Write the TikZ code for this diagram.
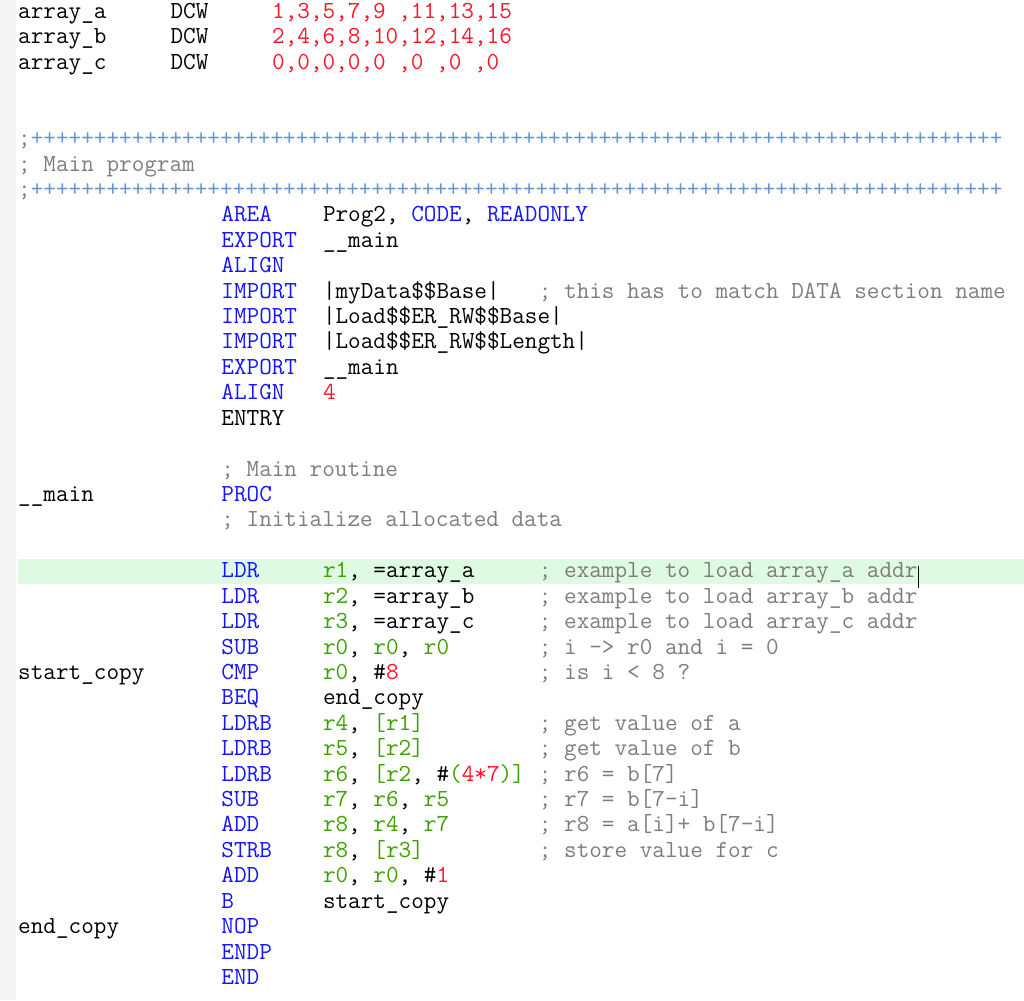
\documentclass[tikz,border=0pt]{standalone}
\usepackage{fontspec}
\definecolor{kwc}{RGB}{20,20,255}
\definecolor{rgc}{RGB}{60,160,0}
\definecolor{nmc}{RGB}{255,20,40}
\definecolor{cmc}{RGB}{125,125,125}
\definecolor{plc}{RGB}{100,150,210}
\definecolor{hlc}{RGB}{223,250,226}
\newcommand\kw[1]{\textcolor{kwc}{#1}}
\newcommand\rg[1]{\textcolor{rgc}{#1}}
\newcommand\nm[1]{\textcolor{nmc}{#1}}
\newcommand\cm[1]{\textcolor{cmc}{#1}}
\newcommand\T[4]{\node[tx] (#1) at ({18+12.7*#3},{-(18.5+25.42*#2)}) {#4};}
\newcommand\plusline{\textcolor{cmc}{;}\textcolor{plc}{+++++++++++++++++++++++++++++++++++++++++++++++++++++++++++++++++++++++++++++}}
\begin{document}
\begin{tikzpicture}[x=1pt,y=1pt,tx/.style={anchor=base west,inner sep=0pt,font=\ttfamily\fontsize{24.5}{26}\selectfont}]
\useasboundingbox (0,0) rectangle (1024,-1000);
\fill[gray!8] (0,0) rectangle (16,-1000);
\fill[hlc] (18,-559) rectangle (1024,-584);
\T{a0}{0}{0}{array\_a}\T{a1}{0}{12}{DCW}\T{a2}{0}{20}{\nm{1,3,5,7,9 ,11,13,15}}
\T{b0}{1}{0}{array\_b}\T{b1}{1}{12}{DCW}\T{b2}{1}{20}{\nm{2,4,6,8,10,12,14,16}}
\T{c0}{2}{0}{array\_c}\T{c1}{2}{12}{DCW}\T{c2}{2}{20}{\nm{0,0,0,0,0 ,0 ,0 ,0}}
\T{p1}{5}{0}{\plusline}
\T{mp}{6}{0}{\cm{; Main program}}
\T{p2}{7}{0}{\plusline}
\T{r8a}{8}{16}{\kw{AREA}}\T{r8b}{8}{24}{Prog2, \kw{CODE}, \kw{READONLY}}
\T{r9a}{9}{16}{\kw{EXPORT}}\T{r9b}{9}{24}{\_\_main}
\T{r10a}{10}{16}{\kw{ALIGN}}
\T{r11a}{11}{16}{\kw{IMPORT}}\T{r11b}{11}{24}{|myData\$\$Base|}\T{r11c}{11}{41}{\cm{; this has to match DATA section name}}
\T{r12a}{12}{16}{\kw{IMPORT}}\T{r12b}{12}{24}{|Load\$\$ER\_RW\$\$Base|}
\T{r13a}{13}{16}{\kw{IMPORT}}\T{r13b}{13}{24}{|Load\$\$ER\_RW\$\$Length|}
\T{r14a}{14}{16}{\kw{EXPORT}}\T{r14b}{14}{24}{\_\_main}
\T{r15a}{15}{16}{\kw{ALIGN}}\T{r15b}{15}{24}{\nm{4}}
\T{r16a}{16}{16}{ENTRY}
\T{r18a}{18}{16}{\cm{; Main routine}}
\T{r19l}{19}{0}{\_\_main}\T{r19a}{19}{16}{\kw{PROC}}
\T{r20a}{20}{16}{\cm{; Initialize allocated data}}
\T{r22a}{22}{16}{\kw{LDR}}\T{r22b}{22}{24}{\rg{r1}, =array\_a}\T{r22c}{22}{41}{\cm{; example to load array\_a addr}}
\T{r23a}{23}{16}{\kw{LDR}}\T{r23b}{23}{24}{\rg{r2}, =array\_b}\T{r23c}{23}{41}{\cm{; example to load array\_b addr}}
\T{r24a}{24}{16}{\kw{LDR}}\T{r24b}{24}{24}{\rg{r3}, =array\_c}\T{r24c}{24}{41}{\cm{; example to load array\_c addr}}
\T{r25a}{25}{16}{\kw{SUB}}\T{r25b}{25}{24}{\rg{r0}, \rg{r0}, \rg{r0}}\T{r25c}{25}{41}{\cm{; i -> r0 and i = 0}}
\T{r26l}{26}{0}{start\_copy}\T{r26a}{26}{16}{\kw{CMP}}\T{r26b}{26}{24}{\rg{r0}, \#\nm{8}}\T{r26c}{26}{41}{\cm{; is i < 8 ?}}
\T{r27a}{27}{16}{\kw{BEQ}}\T{r27b}{27}{24}{end\_copy}
\T{r28a}{28}{16}{\kw{LDRB}}\T{r28b}{28}{24}{\rg{r4}, \rg{[r1]}}\T{r28c}{28}{41}{\cm{; get value of a}}
\T{r29a}{29}{16}{\kw{LDRB}}\T{r29b}{29}{24}{\rg{r5}, \rg{[r2]}}\T{r29c}{29}{41}{\cm{; get value of b}}
\T{r30a}{30}{16}{\kw{LDRB}}\T{r30b}{30}{24}{\rg{r6}, \rg{[r2}, \#\rg{(}\nm{4*7}\rg{)]}}\T{r30c}{30}{41}{\cm{; r6 = b[7]}}
\T{r31a}{31}{16}{\kw{SUB}}\T{r31b}{31}{24}{\rg{r7}, \rg{r6}, \rg{r5}}\T{r31c}{31}{41}{\cm{; r7 = b[7-i]}}
\T{r32a}{32}{16}{\kw{ADD}}\T{r32b}{32}{24}{\rg{r8}, \rg{r4}, \rg{r7}}\T{r32c}{32}{41}{\cm{; r8 = a[i]+ b[7-i]}}
\T{r33a}{33}{16}{\kw{STRB}}\T{r33b}{33}{24}{\rg{r8}, \rg{[r3]}}\T{r33c}{33}{41}{\cm{; store value for c}}
\T{r34a}{34}{16}{\kw{ADD}}\T{r34b}{34}{24}{\rg{r0}, \rg{r0}, \#\nm{1}}
\T{r35a}{35}{16}{\kw{B}}\T{r35b}{35}{24}{start\_copy}
\T{r36l}{36}{0}{end\_copy}\T{r36a}{36}{16}{\kw{NOP}}
\T{r37a}{37}{16}{\kw{ENDP}}
\T{r38a}{38}{16}{\kw{END}}
\draw[line width=1pt] (r22c.south east) ++(1,-4) coordinate (cu) -- ++(0,22);
\end{tikzpicture}
\end{document}
